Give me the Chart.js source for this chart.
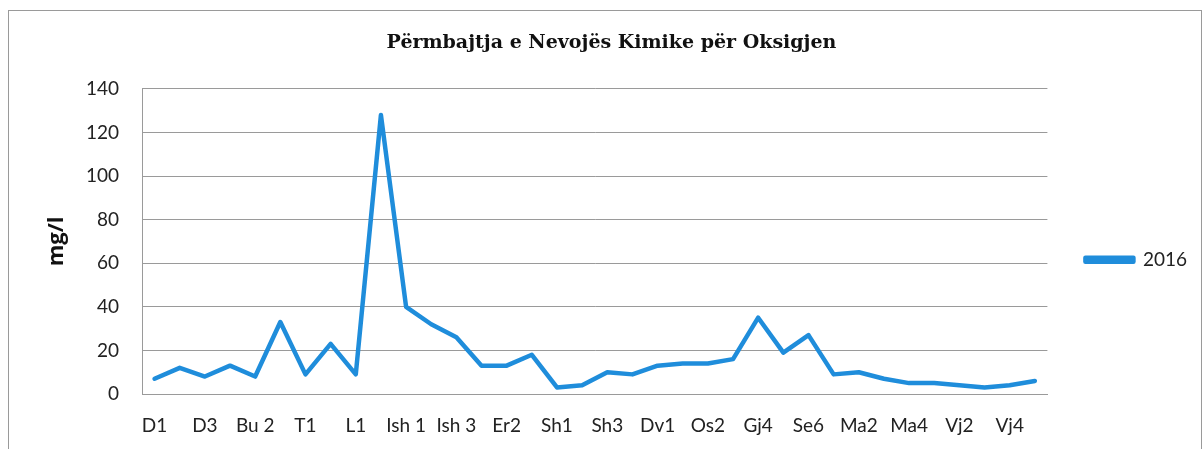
<!DOCTYPE html>
<html>
<head>
<meta charset="utf-8">
<script src="https://cdn.jsdelivr.net/npm/chart.js@4.4.0/dist/chart.umd.min.js"></script>
<style>
  body { margin: 0; background: #fff; }
  #wrap { position: relative; width: 1204px; height: 449px; overflow: hidden; }
  #frame { position: absolute; left: 8px; top: 10px; width: 1192px; height: 460px; border: 1px solid #9a9a9a; pointer-events: none; }
</style>
</head>
<body>
<div id="wrap">
  <canvas id="codChart" width="1204" height="449"></canvas>
  <div id="frame"></div>
</div>
<script>
const stations = ["D1", "D2", "D3", "Bu 1", "Bu 2", "Bu 3", "T1", "T2", "L1", "L2",
  "Ish 1", "Ish 2", "Ish 3", "Er1", "Er2", "Er3", "Sh1", "Sh2", "Sh3", "Sh4",
  "Dv1", "Os1", "Os2", "Gj3", "Gj4", "Se5", "Se6", "Ma1", "Ma2", "Ma3",
  "Ma4", "Vj1", "Vj2", "Vj3", "Vj4", "Vj5"];
const cod2016 = [7, 12, 8, 13, 8, 33, 9, 23, 9, 128,
  40, 32, 26, 13, 13, 18, 3, 4, 10, 9,
  13, 14, 14, 16, 35, 19, 27, 9, 10, 7,
  5, 5, 4, 3, 4, 6];
const yTicks = [0, 20, 40, 60, 80, 100, 120, 140];

const lineBlue = "#1f8ddb";
const gridGrey = "#9a9a9a";
const tickFont = { family: "Lato", size: 19 };

const ctx = document.getElementById("codChart").getContext("2d");

const codChart = new Chart(ctx, {
  type: "line",
  data: {
    labels: stations,
    datasets: [
      {
        label: "2016",
        data: cod2016,
        borderColor: lineBlue,
        backgroundColor: lineBlue,
        borderWidth: 4.5,
        borderJoinStyle: "round",
        borderCapStyle: "round",
        pointRadius: 0,
        tension: 0,
        fill: false,
      },
    ],
  },
  options: {
    responsive: false,
    animation: false,
    layout: {
      padding: { left: 26, right: 7, top: 0, bottom: 0 },
    },
    plugins: {
      title: {
        display: true,
        text: "Përmbajtja e Nevojës Kimike për Oksigjen",
        color: "#111",
        font: { family: "DejaVu Serif", size: 19, weight: "bold" },
        padding: { top: 32, bottom: 34 },
      },
      legend: {
        position: "right",
        // empty title only pushes the single entry down
        title: { display: true, text: " ", padding: 28, font: { size: 12 } },
        labels: {
          boxWidth: 48,
          boxHeight: 4,
          padding: 10,
          color: "#222",
          font: tickFont,
        },
      },
      tooltip: { enabled: false },
    },
    scales: {
      x: {
        offset: true,
        grid: { display: false, drawTicks: false },
        border: { display: true, color: gridGrey },
        ticks: {
          autoSkip: false,
          maxRotation: 0,
          padding: 20,
          color: "#222",
          font: tickFont,
          callback: function (value, index) {
            return index % 2 === 0 ? stations[index] : "";
          },
        },
        afterFit: function (scale) {
          scale.height = 55;
        },
      },
      y: {
        min: 0,
        max: 140,
        afterBuildTicks: function (scale) {
          scale.ticks = yTicks.map((v) => ({ value: v }));
        },
        grid: { color: gridGrey, drawTicks: false },
        border: { display: true, color: gridGrey },
        ticks: { padding: 23, color: "#222", font: tickFont },
        title: {
          display: true,
          text: "mg/l",
          color: "#111",
          font: { family: "Open Sans", size: 22, weight: "bold" },
          padding: { top: 18, bottom: 0 },
        },
        afterFit: function (scale) {
          scale.width = 116;
        },
      },
      yGap: {
        position: "right",
        display: true,
        grid: { display: false },
        border: { display: false },
        ticks: { display: false },
        afterFit: function (scale) {
          scale.width = 28;
        },
      },
    },
  },
});
</script>
</body>
</html>
